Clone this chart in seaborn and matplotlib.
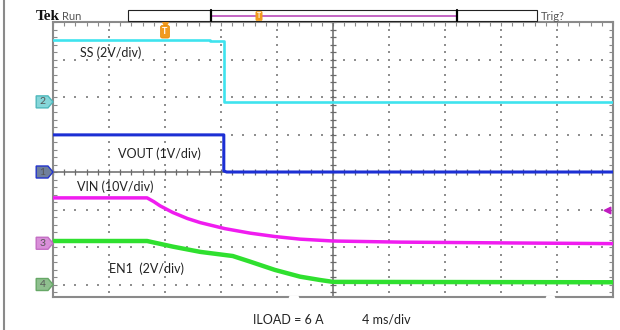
import numpy as np
import pandas as pd
import matplotlib.pyplot as plt
import matplotlib.patches as mpatches
from matplotlib.lines import Line2D
from matplotlib.ticker import MultipleLocator
import seaborn as sns

sns.set_style("white")
plt.rcParams['font.family'] = ['Lato', 'DejaVu Sans']

# Traces, in scope divisions (x: 0..10 div, y: centre = 0)
ss_t = [0, 2.80, 2.80, 3.05, 3.05, 10]
ss_v = [3.52, 3.52, 3.49, 3.49, 1.87, 1.87]

vout_t = [0, 3.05, 3.05, 3.10, 10]
vout_v = [0.99, 0.99, 0.03, 0.0, 0.0]

vin_t = [0, 1.68, 1.80, 1.91, 2.14, 2.40, 2.63, 3.07, 3.52, 3.96, 4.41, 5.0, 6.2, 8.0, 10]
vin_v = [-0.69, -0.69, -0.79, -0.90, -1.08, -1.24, -1.35, -1.51, -1.63, -1.72, -1.79, -1.84, -1.87, -1.89, -1.91]

en1_t = [0, 1.68, 2.14, 2.63, 3.21, 3.52, 3.96, 4.41, 4.77, 5.0, 10]
en1_v = [-1.84, -1.84, -1.99, -2.13, -2.24, -2.39, -2.61, -2.79, -2.88, -2.93, -2.94]

# channel ground markers (div) and labels
ch_names = ["2", "1", "3", "4"]
ch_offsets = [1.87, 0.0, -1.9, -3.0]
ch_fill = ["#86d6d9", "#6f7f9c", "#d98fd9", "#8fbf8f"]
ch_edge = ["#4fb8bc", "#2233cc", "#c46ec4", "#66a866"]

labels = ["SS (2V/div)", "VOUT (1V/div)", "VIN (10V/div)", "EN1  (2V/div)"]
label_x = [0.48, 1.16, 0.43, 1.0]
label_y = [3.17, 0.5, -0.4, -2.59]

trig_pos = 2.0
trig_level = -1.0

W, H = 620, 330
fig = plt.figure(figsize=(6.2, 3.3), dpi=100)
ax = fig.add_axes([53 / W, 33 / H, 560 / W, 275 / H])
ax.set_xlim(0, 10)
ax.set_ylim(-3.333, 4)

# graticule
gx = np.arange(0, 10.01, 0.2)
gy = np.arange(-3.2, 4.01, 0.2)
for xi in [1, 2, 3, 4, 6, 7, 8, 9]:
    ax.scatter(np.full(len(gy), xi), gy, s=1.5, marker="s", color="#8f8f8f", linewidths=0, zorder=1)
for yi in [-3, -2, -1, 1, 2, 3]:
    ax.scatter(gx, np.full(len(gx), yi), s=1.5, marker="s", color="#8f8f8f", linewidths=0, zorder=1)
ax.axvline(5, color="#6a6a6a", lw=1.1, zorder=1)
ax.axhline(0, color="#6a6a6a", lw=1.1, zorder=1)
ax.scatter(np.full(len(gy), 5), gy, marker="_", s=14, color="#6a6a6a", linewidths=0.9, zorder=1)
ax.scatter(gx, np.zeros(len(gx)), marker="|", s=14, color="#6a6a6a", linewidths=0.9, zorder=1)

for s in ax.spines.values():
    s.set_color("#8a8a8a")
    s.set_linewidth(1.5)
ax.xaxis.set_major_locator(MultipleLocator(0.2))
ax.yaxis.set_major_locator(MultipleLocator(0.2))
ax.tick_params(which="both", direction="in", length=3, width=0.8, color="#8a8a8a",
               top=True, bottom=False, left=True, right=True,
               labelbottom=False, labelleft=False)

# small breaks in the bottom frame line
for g0, g1 in [(290, 297), (547, 553)]:
    fig.add_artist(Line2D([g0 / W, g1 / W], [33 / H] * 2, transform=fig.transFigure, color="white", lw=2.5))

# traces
sns.lineplot(x=ss_t, y=ss_v, estimator=None, sort=False, color="#3fe3ee", lw=1.9, ax=ax, zorder=3)
sns.lineplot(x=vout_t, y=vout_v, estimator=None, sort=False, color="#1c2fd4", lw=2.2, ax=ax, zorder=3)
sns.lineplot(x=vin_t, y=vin_v, estimator=None, sort=False, color="#f01cf0", lw=2.5, ax=ax, zorder=3)
sns.lineplot(x=en1_t, y=en1_v, estimator=None, sort=False, color="#2fe02f", lw=3.2, ax=ax, zorder=3)

for txt, lx, ly in zip(labels, label_x, label_y):
    ax.text(lx, ly, txt, fontsize=9, color="#222222", ha="left", va="center")

# channel markers
for name, off, fc, ec in zip(ch_names, ch_offsets, ch_fill, ch_edge):
    pts = [(-0.30, off - 0.16), (-0.09, off - 0.16), (0, off), (-0.09, off + 0.16), (-0.30, off + 0.16)]
    ax.add_patch(mpatches.Polygon(pts, closed=True, fc=fc, ec=ec, lw=1, clip_on=False, zorder=5))
    ax.text(-0.19, off, name, fontsize=7.5, color="#555555", ha="center", va="center", clip_on=False, zorder=6)

# trigger markers
ax.scatter([trig_pos], [3.96], marker="v", s=22, color="#f29a1e", clip_on=False, zorder=6)
ax.text(trig_pos, 3.74, "T", fontsize=6.5, fontweight="bold", color="white", ha="center", va="center",
        bbox=dict(boxstyle="round,pad=0.2", fc="#f29a1e", ec="#e08800", lw=0.5), zorder=6)
ax.scatter([9.9], [trig_level], marker="<", s=22, color="#c01cc0", zorder=6)

# header
fig.add_artist(mpatches.Rectangle((128 / W, 1 - 21 / H), (537 - 128) / W, 11 / H,
                                  transform=fig.transFigure, fc="white", ec="#222222", lw=0.8))
fig.add_artist(Line2D([211 / W, 457 / W], [1 - 15.5 / H] * 2, transform=fig.transFigure, color="#b43cb4", lw=1.1))
for bx in [211, 457]:
    fig.add_artist(Line2D([bx / W] * 2, [1 - 10 / H, 1 - 21 / H], transform=fig.transFigure, color="black", lw=1.6))
fig.text(259 / W, 1 - 16 / H, "T", fontsize=5, fontweight="bold", color="white", ha="center", va="center",
         bbox=dict(boxstyle="round,pad=0.15", fc="#f29a1e", ec="#f29a1e", lw=0.5))
fig.text(36 / W, 1 - 16 / H, "Tek", fontsize=11, fontweight="bold", family="Liberation Serif",
         color="#111111", ha="left", va="center")
fig.text(62 / W, 1 - 16 / H, "Run", fontsize=8, color="#555555", ha="left", va="center")
fig.text(541 / W, 1 - 16 / H, "Trig?", fontsize=8, color="#555555", ha="left", va="center")

# footer
fig.text(253 / W, 1 - 320 / H, "ILOAD = 6 A", fontsize=9, color="#222222", ha="left", va="center")
fig.text(362 / W, 1 - 320 / H, "4 ms/div", fontsize=9, color="#222222", ha="left", va="center")

fig.add_artist(Line2D([4 / W] * 2, [0, 1], transform=fig.transFigure, color="#8a8a8a", lw=1.5))

fig.savefig("out.png", dpi=100)
